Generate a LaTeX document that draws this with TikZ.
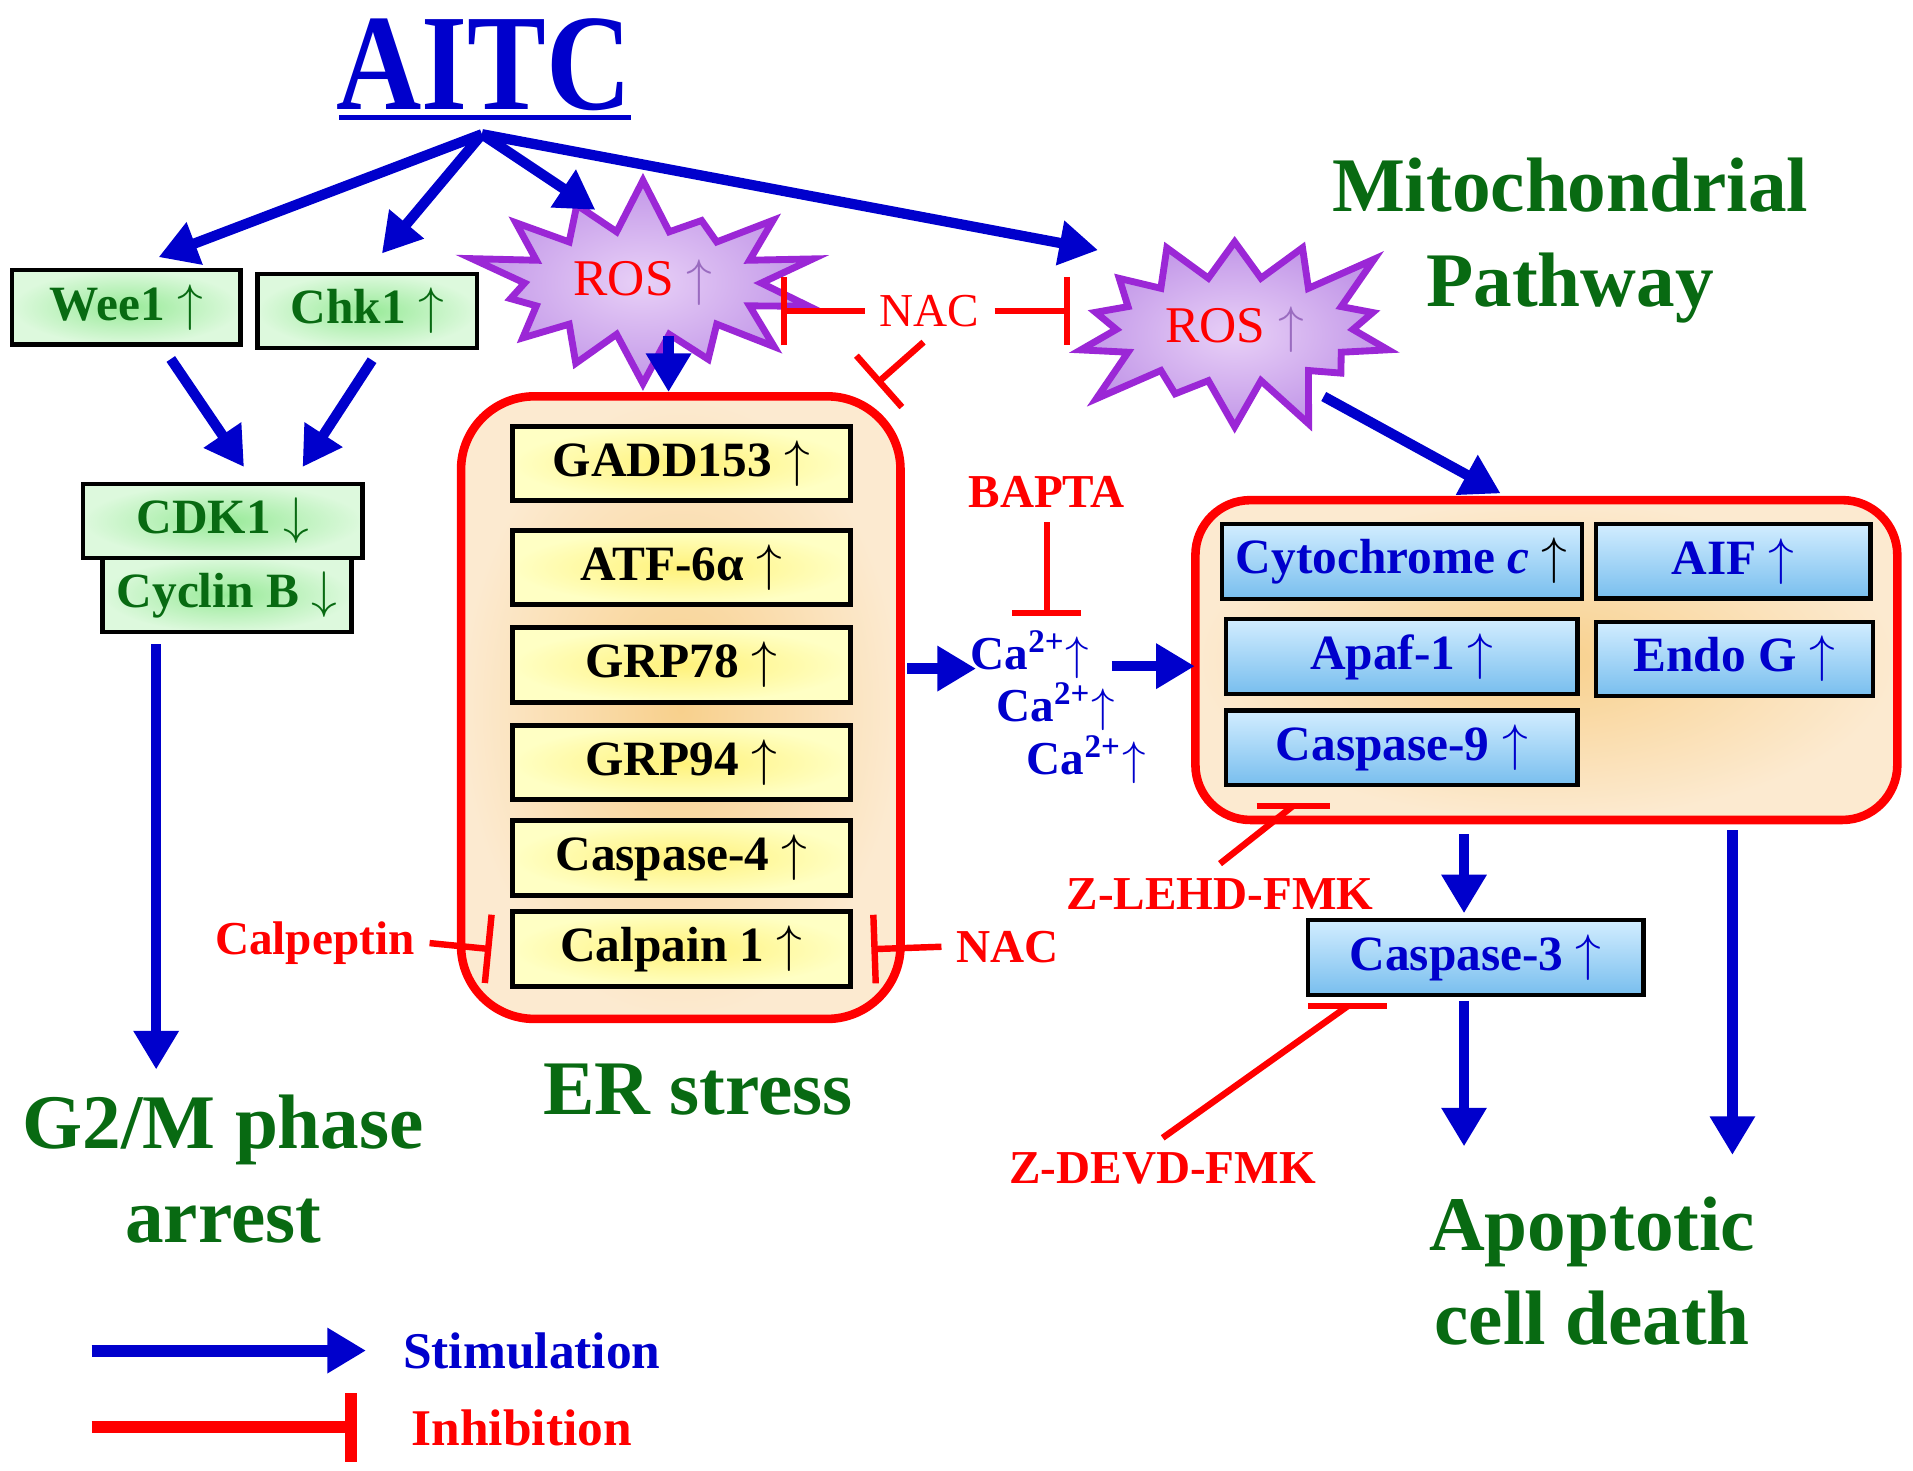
\documentclass[tikz,border=0pt]{standalone}
\usepackage{fontspec}
\setmainfont{Liberation Serif}
\newfontfamily\condfont{Liberation Serif}[FakeStretch=0.86]
\usetikzlibrary{arrows.meta,shapes.symbols,calc}

\definecolor{stimblue}{HTML}{0000CC}
\definecolor{labgreen}{HTML}{086A12}
\definecolor{inhibred}{HTML}{FF0000}
\definecolor{rospurple}{HTML}{9B27D6}
\definecolor{rosin}{HTML}{E8D0F7}
\definecolor{rosout}{HTML}{C297E8}
\definecolor{rosarw}{HTML}{9A6CC0}
\definecolor{gboxin}{HTML}{98EA98}
\definecolor{gboxout}{HTML}{DDF9DD}
\definecolor{yboxin}{HTML}{FFF27A}
\definecolor{yboxout}{HTML}{FFFFC4}
\definecolor{bboxtop}{HTML}{D2EDFF}
\definecolor{bboxbot}{HTML}{78BEEE}
\definecolor{tanin}{HTML}{F8D08C}
\definecolor{tanout}{HTML}{FCEAD0}

\newcommand{\titlefont}{\fontsize{32}{34}\condfont\bfseries}
\newcommand{\bigfont}{\fontsize{18}{22}\selectfont\bfseries}
\newcommand{\boxfont}{\fontsize{11.5}{13}\selectfont\bfseries}
\newcommand{\redfont}{\fontsize{11}{13}\selectfont\bfseries}
\newcommand{\legfont}{\fontsize{12}{14}\selectfont\bfseries}
\newcommand{\uparw}{\ensuremath{\uparrow}}
\newcommand{\dnarw}{\ensuremath{\downarrow}}
\newcommand{\caup}{Ca\textsuperscript{2+}\smash{\uparw}}

\tikzset{
  stim/.style={draw=stimblue, line width=2.4pt, -{Triangle[length=9pt,width=10pt]}},
  inhib/.style={draw=inhibred, line width=1.5pt, -{Bar[width=16pt]}},
  inhibbar/.style={draw=inhibred, line width=1.5pt},
  greenbox/.style={draw=black, line width=1pt, inner color=gboxin, outer color=gboxout, text=labgreen, font=\boxfont, minimum height=0.6cm},
  yellowbox/.style={draw=black, line width=1.2pt, inner color=yboxin, outer color=yboxout, font=\boxfont, minimum width=2.77cm, minimum height=0.6cm},
  bluebox/.style={draw=black, line width=1pt, top color=bboxtop, bottom color=bboxbot, text=stimblue, font=\boxfont, minimum height=0.6cm},
  stressbox/.style={draw=inhibred, line width=2pt, inner color=tanin, outer color=tanout},
  ros/.style={starburst, starburst points=14, starburst point height=0.5cm, draw=rospurple, line width=1.6pt, inner color=rosin, outer color=rosout, minimum width=2.45cm, minimum height=1.7cm, font=\fontsize{12}{13}\selectfont, text=inhibred},
  biglab/.style={font=\bigfont, text=labgreen, align=center},
  redlab/.style={font=\redfont, text=inhibred},
  calab/.style={font=\fontsize{11}{12}\selectfont\bfseries, text=stimblue, anchor=west, inner sep=0pt},
}

\begin{document}
\begin{tikzpicture}[x=0.01cm, y=-0.01cm]
\useasboundingbox (0,0) rectangle (1568,1205);
%
\node[font=\titlefont, text=stimblue] (aitc) at (397,53) {AITC};
\draw[stimblue, line width=1.2pt] (278,96) -- (517,96);
\coordinate (src) at (395,110);
%
\node[greenbox, minimum width=1.87cm] (wee1) at (103.5,252) {Wee1 \uparw};
\node[greenbox, minimum width=1.80cm] (chk1) at (301,255) {Chk1 \uparw};
\node[greenbox, minimum width=2.02cm, minimum height=0.59cm] (cycb) at (186,487.5) {Cyclin B \dnarw};
\node[greenbox, minimum width=2.29cm] (cdk1) at (182.5,427) {CDK1 \dnarw};
\node[biglab] (g2m) at (183,958) {G2/M phase\\arrest};
%
\node[ros, random starburst=37] (ros1) at (527,232) {ROS {\color{rosarw}\uparw}};
\node[ros, random starburst=71] (ros2) at (1012,270) {ROS {\color{rosarw}\uparw}};
\node[biglab] (mitolab) at (1287,197) {Mitochondrial\\Pathway};
\node[redlab, font=\fontsize{11}{13}\selectfont] (nac1) at (762,255) {NAC};
%
\node[stressbox, minimum width=3.6cm, minimum height=5.1cm, rounded corners=0.6cm] (er) at (558,580) {};
\node[yellowbox] (gadd) at (558.5,380) {GADD153 \uparw};
\node[yellowbox] (atf) at (558.5,465) {ATF-6α \uparw};
\node[yellowbox] (grp78) at (558.5,545) {GRP78 \uparw};
\node[yellowbox] (grp94) at (558.5,625) {GRP94 \uparw};
\node[yellowbox] (casp4) at (558.5,703) {Caspase-4 \uparw};
\node[yellowbox] (calpain) at (558.5,778) {Calpain 1 \uparw};
\node[biglab] (erlab) at (572,893) {ER stress};
\node[redlab] (calp) at (258,773) {Calpeptin};
\node[redlab] (nac2) at (826,776) {NAC};
%
\node[redlab] (bapta) at (858,403) {BAPTA};
\node[calab] (ca1) at (795,533) {\caup};
\node[calab] (ca2) at (816,576) {\caup};
\node[calab] (ca3) at (841,619) {\caup};
%
\node[stressbox, minimum width=5.75cm, minimum height=2.62cm, rounded corners=0.45cm] (mito) at (1267.5,541) {};
\node[bluebox, minimum width=2.88cm] (cytc) at (1149,460) {Cytochrome \textit{c} {\color{black}\uparw}};
\node[bluebox, minimum width=2.25cm] (aif) at (1420.5,460) {AIF \uparw};
\node[bluebox, minimum width=2.88cm] (apaf) at (1149,538) {Apaf-1 \uparw};
\node[bluebox, minimum width=2.27cm] (endog) at (1421.5,540) {Endo G \uparw};
\node[bluebox, minimum width=2.88cm] (casp9) at (1149,613) {Caspase-9 \uparw};
\node[bluebox, minimum width=2.75cm] (casp3) at (1209.5,785) {Caspase-3 \uparw};
\node[redlab] (zlehd) at (1000,733) {Z-LEHD-FMK};
\node[redlab] (zdevd) at (953,958) {Z-DEVD-FMK};
\node[biglab] (apop) at (1305,1042) {Apoptotic\\cell death};
%
\draw[stim] (src) -- ($(wee1.north)+(26.5,-9)$);
\draw[stim] (src) -- ($(chk1.north)+(12,-15)$);
\draw[stim] (src) -- ($(ros1)+(-39,-60)$);
\draw[stim] (src) -- ($(ros2)+(-112,-65)$);
\draw[stim] ($(wee1.south)+(36.5,10)$) -- ($(cdk1.north)+(17.5,-12)$);
\draw[stim] ($(chk1.south)+(4,8)$) -- ($(cdk1.north)+(65.5,-12)$);
\draw[stim] ($(cycb.south)+(-58,8)$) -- ($(g2m.north)+(-55,-8)$);
\draw[stim] ($(ros1)+(21,43)$) -- ($(er.north)+(-10,0)$);
\draw[stim] ($(er.east)+(2,-32)$) -- ($(ca1.west)+(5,15)$);
\draw[stim] ($(mito.west)+(-65,5)$) -- ($(mito.west)+(3,5)$);
\draw[stim] ($(ros2)+(73,55)$) -- ($(mito.north)+(-37.5,-2)$);
\draw[stim] ($(mito.south)+(-67.5,8)$) -- ($(casp3.north)+(-9.5,-4)$);
\draw[stim] ($(casp3.south)+(-9.5,3)$) -- ($(apop.north)+(-105,-29)$);
\draw[stim] ($(mito.south)+(152.5,5)$) -- ($(apop.north)+(115,-22)$);
%
\draw[inhib] (nac1.west) -- ($(ros1)+(113,23)$);
\draw[inhib] (nac1.east) -- ($(ros2)+(-135,-15)$);
\draw[inhib] ($(nac1.south)+(-5,0)$) -- ($(er.north east)+(-23,-7)$);
\draw[inhib] (calp.east) -- ($(calpain.west)+(-15,0)$);
\draw[inhib] (nac2.west) -- ($(calpain.east)+(15,0)$);
\draw[inhib] (bapta.south) -- ($(ca1.west)+(63,-28)$);
\draw[inhibbar] (zlehd.north) -- ($(casp9.south)+(-89,15)$);
\draw[inhibbar] ($(casp9.south)+(-119,15)$) -- ($(casp9.south)+(-59,15)$);
\draw[inhibbar] (zdevd.north) -- ($(casp3.south)+(-104.5,7)$);
\draw[inhibbar] ($(casp3.south)+(-137.5,7)$) -- ($(casp3.south)+(-72.5,7)$);
%
\node[font=\legfont, text=stimblue, anchor=west] (stimlab) at (318,1107) {Stimulation};
\node[font=\legfont, text=inhibred, anchor=west] (inhlab) at (325,1170) {Inhibition};
\coordinate (leg1) at (75,1107);
\coordinate (leg2) at (75,1170);
\draw[draw=stimblue, line width=2.8pt, -{Triangle[length=9pt,width=10pt]}] (leg1) -- ($(stimlab.west)+(-18,0)$);
\draw[draw=inhibred, line width=2.8pt, -{Bar[width=16pt]}] (leg2) -- ($(inhlab.west)+(-32,0)$);
\end{tikzpicture}
\end{document}
